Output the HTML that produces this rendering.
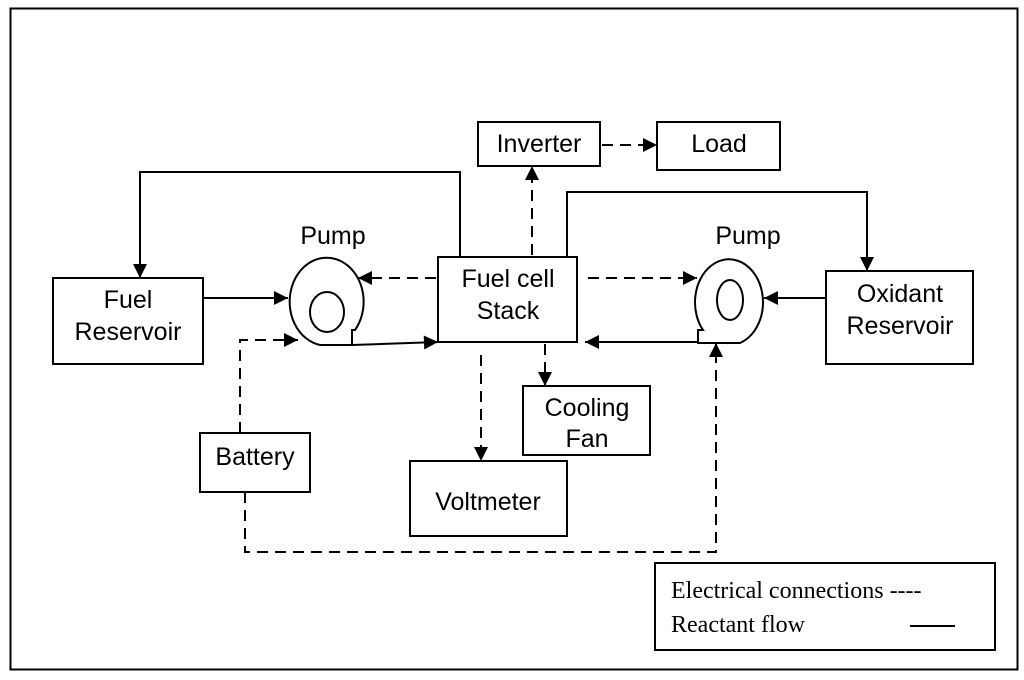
<html><body style="margin:0;background:#fff">
<svg width="1024" height="680" viewBox="0 0 1024 680" xmlns="http://www.w3.org/2000/svg" style="display:block">
<defs>
<marker id="b" viewBox="0 0 10 10" markerWidth="16" markerHeight="14" refX="10" refY="5" orient="auto" markerUnits="userSpaceOnUse"><path d="M0,0 L10,5 L0,10 z" fill="#000"/></marker></defs>
<rect x="10.5" y="8.5" width="1007" height="661" fill="none" stroke="#000" stroke-width="2"/>
<g fill="none" stroke="#000" stroke-width="2">
<rect x="53" y="278" width="150" height="86"/>
<rect x="438" y="257" width="139" height="85"/>
<rect x="478" y="122" width="122" height="44"/>
<rect x="657" y="122" width="123" height="48"/>
<rect x="826" y="271" width="147" height="93"/>
<rect x="523" y="386" width="127" height="69"/>
<rect x="410" y="461" width="157" height="75"/>
<rect x="200" y="433" width="110" height="59"/>
<rect x="655" y="563" width="340" height="87"/>
<path d="M320,345 A37,44 0 1 1 355,330 L352,330 L352,345 Z"/>
<ellipse cx="327" cy="312" rx="17" ry="20"/>
<path d="M740,343 A34,43 0 1 0 703,330 L698,330 L698,343 Z"/>
<ellipse cx="730" cy="300" rx="13" ry="20"/>
<polyline points="460,257 460,172 140,172 140,278" marker-end="url(#b)"/>
<polyline points="567,257 567,192 867,192 867,271" marker-end="url(#b)"/>
<line x1="203" y1="298" x2="288" y2="298" marker-end="url(#b)"/>
<polyline points="352,345 438,342" marker-end="url(#b)"/>
<line x1="697" y1="342" x2="585" y2="342" marker-end="url(#b)"/>
<line x1="826" y1="298" x2="764" y2="298" marker-end="url(#b)"/>
<line x1="910" y1="626" x2="955" y2="626"/>
</g>
<g fill="none" stroke="#000" stroke-width="2" stroke-dasharray="11,7">
<line x1="436" y1="278" x2="358" y2="278" marker-end="url(#b)"/>
<polyline points="240,433 240,340 298,340" marker-end="url(#b)"/>
<line x1="532" y1="255" x2="532" y2="166" marker-end="url(#b)"/>
<line x1="602" y1="145" x2="657" y2="145" marker-end="url(#b)"/>
<line x1="588" y1="278" x2="697" y2="278" marker-end="url(#b)"/>
<line x1="545" y1="344" x2="545" y2="386" marker-end="url(#b)"/>
<line x1="481" y1="355" x2="481" y2="461" marker-end="url(#b)"/>
<polyline points="245,492 245,552 716,552 716,343" marker-end="url(#b)"/>
</g>
<g font-family="Liberation Sans, sans-serif" font-size="25" text-anchor="middle" fill="#000">
<text x="128" y="308">Fuel</text><text x="128" y="340">Reservoir</text>
<text x="333" y="244">Pump</text><text x="748" y="244">Pump</text>
<text x="508" y="287">Fuel cell</text><text x="508" y="319">Stack</text>
<text x="539" y="152">Inverter</text><text x="719" y="152">Load</text>
<text x="900" y="302">Oxidant</text><text x="900" y="334">Reservoir</text>
<text x="587" y="416">Cooling</text><text x="587" y="447">Fan</text>
<text x="488" y="510">Voltmeter</text>
<text x="255" y="465">Battery</text>
</g>
<g font-family="Liberation Serif, serif" font-size="24" fill="#000">
<text x="671" y="598">Electrical connections ----</text>
<text x="671" y="632">Reactant flow</text>
</g>
</svg>
</body></html>
